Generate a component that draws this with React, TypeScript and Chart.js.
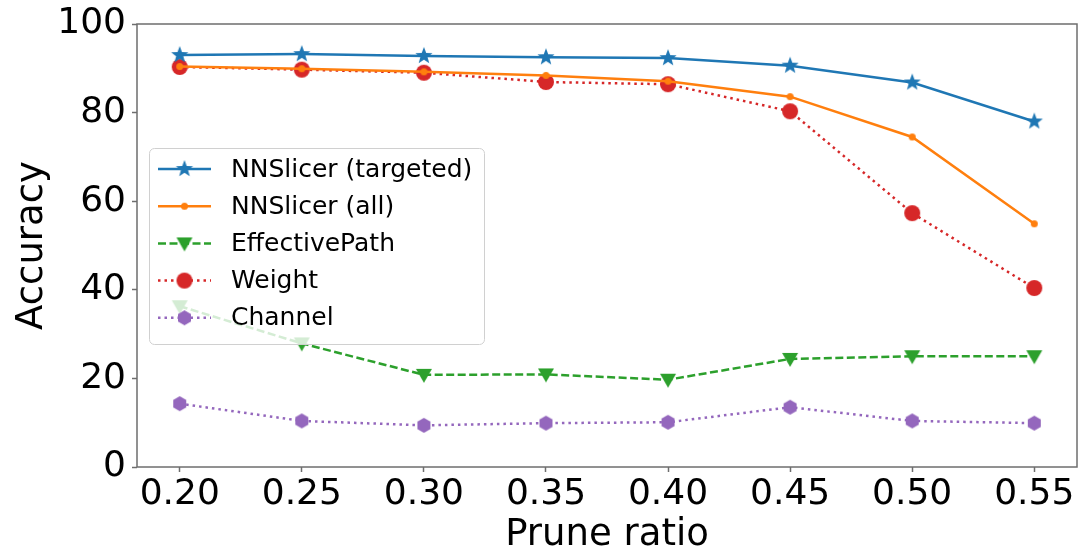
import React, { useEffect, useRef } from "react";
import { Chart, registerables } from "chart.js";

Chart.register(...registerables);

const pruneRatios = [0.2, 0.25, 0.3, 0.35, 0.4, 0.45, 0.5, 0.55];
const yTicks = [0, 20, 40, 60, 80, 100];
const nnslicerTargeted = [93.0, 93.2, 92.8, 92.5, 92.3, 90.6, 86.8, 78.0];
const nnslicerAll = [90.4, 89.9, 89.2, 88.4, 87.1, 83.6, 74.5, 54.9];
const effectivePath = [36.3, 27.9, 20.8, 20.9, 19.7, 24.4, 25.0, 25.0];
const weight = [90.3, 89.7, 89.0, 86.9, 86.4, 80.3, 57.3, 40.4];
const channel = [14.3, 10.4, 9.4, 9.9, 10.1, 13.5, 10.4, 9.9];

const FONT = "'DejaVu Sans', sans-serif";

function makeMarker(shape: string, color: string, r: number): HTMLCanvasElement {
  const size = Math.ceil(r * 2 + 4);
  const c = document.createElement("canvas");
  c.width = size;
  c.height = size;
  const ctx = c.getContext("2d")!;
  const cx = size / 2;
  const cy = size / 2;
  ctx.fillStyle = color;
  ctx.beginPath();
  if (shape === "star") {
    for (let i = 0; i < 10; i++) {
      const rr = i % 2 === 0 ? r : r * 0.42;
      const a = -Math.PI / 2 + (i * Math.PI) / 5;
      const x = cx + rr * Math.cos(a);
      const y = cy + rr * Math.sin(a);
      if (i === 0) ctx.moveTo(x, y);
      else ctx.lineTo(x, y);
    }
    ctx.closePath();
  } else if (shape === "circle") {
    ctx.arc(cx, cy, r, 0, Math.PI * 2);
  } else if (shape === "tridown") {
    ctx.moveTo(cx - r, cy - r * 0.75);
    ctx.lineTo(cx + r, cy - r * 0.75);
    ctx.lineTo(cx, cy + r);
    ctx.closePath();
  } else if (shape === "hexagon") {
    for (let i = 0; i < 6; i++) {
      const a = -Math.PI / 2 + (i * Math.PI) / 3;
      const x = cx + r * Math.cos(a);
      const y = cy + r * Math.sin(a);
      if (i === 0) ctx.moveTo(x, y);
      else ctx.lineTo(x, y);
    }
    ctx.closePath();
  }
  ctx.fill();
  return c;
}

export default function App() {
  const ref = useRef<HTMLCanvasElement>(null);
  useEffect(() => {
    document.body.style.margin = "0";
    const markers = {
      star: makeMarker("star", "#1f77b4", 9),
      dot: makeMarker("circle", "#ff7f0e", 3.5),
      tri: makeMarker("tridown", "#2ca02c", 8),
      circ: makeMarker("circle", "#d62728", 8),
      hex: makeMarker("hexagon", "#9467bd", 7.5),
    };
    const series = [
      { label: "NNSlicer (targeted)", data: nnslicerTargeted, color: "#1f77b4", dash: [] as number[], marker: markers.star },
      { label: "NNSlicer (all)", data: nnslicerAll, color: "#ff7f0e", dash: [] as number[], marker: markers.dot },
      { label: "EffectivePath", data: effectivePath, color: "#2ca02c", dash: [8, 3.5], marker: markers.tri },
      { label: "Weight", data: weight, color: "#d62728", dash: [2.5, 4], marker: markers.circ },
      { label: "Channel", data: channel, color: "#9467bd", dash: [2.5, 4], marker: markers.hex },
    ];

    const framePlugin = {
      id: "frameLegend",
      afterDatasetsDraw(chart: any) {
        const { ctx } = chart;
        ctx.save();
        const lx = 149.5, ly = 148.5, lw = 335, lh = 196;
        const rad = 5;
        ctx.beginPath();
        ctx.moveTo(lx + rad, ly);
        ctx.lineTo(lx + lw - rad, ly);
        ctx.arcTo(lx + lw, ly, lx + lw, ly + rad, rad);
        ctx.lineTo(lx + lw, ly + lh - rad);
        ctx.arcTo(lx + lw, ly + lh, lx + lw - rad, ly + lh, rad);
        ctx.lineTo(lx + rad, ly + lh);
        ctx.arcTo(lx, ly + lh, lx, ly + lh - rad, rad);
        ctx.lineTo(lx, ly + rad);
        ctx.arcTo(lx, ly, lx + rad, ly, rad);
        ctx.closePath();
        ctx.fillStyle = "rgba(255,255,255,0.8)";
        ctx.fill();
        ctx.strokeStyle = "#d0d0d0";
        ctx.lineWidth = 1;
        ctx.stroke();
        ctx.font = `25px ${FONT}`;
        ctx.textBaseline = "middle";
        ctx.textAlign = "left";
        series.forEach((s, i) => {
          const y = 169 + i * 37.2;
          ctx.beginPath();
          ctx.setLineDash(s.dash);
          ctx.strokeStyle = s.color;
          ctx.lineWidth = 2.5;
          ctx.moveTo(158, y);
          ctx.lineTo(211, y);
          ctx.stroke();
          ctx.setLineDash([]);
          const m = s.marker;
          ctx.drawImage(m, 184.5 - m.width / 2, y - m.height / 2);
          ctx.fillStyle = "#000";
          ctx.fillText(s.label, 231, y + 1);
        });
        ctx.restore();
      },
      afterDraw(chart: any) {
        const { ctx, chartArea } = chart;
        ctx.save();
        ctx.strokeStyle = "#6e6e6e";
        ctx.lineWidth = 1.5;
        ctx.strokeRect(chartArea.left, chartArea.top, chartArea.right - chartArea.left, chartArea.bottom - chartArea.top);
        ctx.restore();
      },
    };

    const chart = new Chart(ref.current!, {
      type: "line",
      data: {
        datasets: series.map((s) => ({
          label: s.label,
          data: s.data.map((v, i) => ({ x: pruneRatios[i], y: v })),
          borderColor: s.color,
          backgroundColor: s.color,
          borderWidth: 2.5,
          borderDash: s.dash,
          pointStyle: s.marker as any,
          pointRadius: 8,
          pointHoverRadius: 8,
          fill: false,
          tension: 0,
        })),
      },
      options: {
        animation: false,
        responsive: false,
        events: [],
        layout: { autoPadding: false, padding: { top: 24, right: 2, left: 0, bottom: 0 } },
        plugins: { legend: { display: false }, tooltip: { enabled: false } },
        scales: {
          x: {
            type: "linear",
            min: 0.1825,
            max: 0.5675,
            afterBuildTicks: (scale: any) => {
              scale.ticks = pruneRatios.map((v) => ({ value: v }));
            },
            afterFit: (scale: any) => {
              scale.height = 84;
              scale.paddingLeft = 0;
              scale.paddingRight = 0;
            },
            grid: { drawOnChartArea: false, drawTicks: true, tickLength: 5, tickColor: "#6e6e6e", tickWidth: 1.5 },
            border: { display: false },
            ticks: {
              color: "#000",
              font: { family: FONT, size: 36 },
              padding: 1,
              maxRotation: 0,
              autoSkip: false,
              callback: (v: any) => Number(v).toFixed(2),
            },
            title: {
              display: true,
              text: "Prune ratio",
              color: "#000",
              font: { family: FONT, size: 37 },
              padding: { top: 0, bottom: -7 },
            },
          },
          y: {
            min: 0,
            max: 100,
            afterBuildTicks: (scale: any) => {
              scale.ticks = yTicks.map((v) => ({ value: v }));
            },
            afterFit: (scale: any) => {
              scale.width = 137;
              scale.paddingTop = 0;
              scale.paddingBottom = 0;
            },
            grid: { drawOnChartArea: false, drawTicks: true, tickLength: 5, tickColor: "#6e6e6e", tickWidth: 1.5 },
            border: { display: false },
            ticks: {
              color: "#000",
              font: { family: FONT, size: 36 },
              padding: 6,
            },
            title: {
              display: true,
              text: "Accuracy",
              color: "#000",
              font: { family: FONT, size: 37 },
              padding: { top: 10, bottom: 0 },
            },
          },
        },
      },
      plugins: [framePlugin],
    });
    return () => chart.destroy();
  }, []);
  return (
    <div style={{ position: "fixed", left: 0, top: 0, width: 1079, height: 551, background: "#fff" }}>
      <canvas ref={ref} width={1079} height={551} style={{ width: 1079, height: 551 }} />
    </div>
  );
}
